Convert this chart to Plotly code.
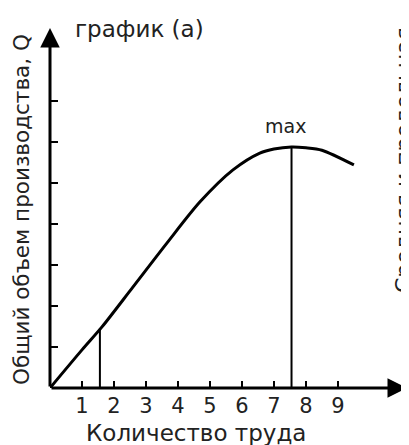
import plotly.graph_objects as go

# Data
labor = [0, 1.0, 1.625, 2.59, 3.66, 4.69, 5.72, 6.56, 7.0, 7.55, 8.0, 8.5, 9.5]
output = [0, 0.93, 1.49, 2.46, 3.54, 4.54, 5.32, 5.73, 5.83, 5.88, 5.86, 5.80, 5.44]
x_ticks = [1, 2, 3, 4, 5, 6, 7, 8, 9]
y_ticks = [1, 2, 3, 4, 5, 6, 7]
mark_low_x = 1.56
mark_low_y = 1.45
mark_max_x = 7.55
mark_max_y = 5.88

FONT = "DejaVu Sans, Liberation Sans, Arial, sans-serif"
TXT = "#222"
XMAX = 11.16
YMAX = 8.78

fig = go.Figure()
fig.add_trace(go.Scatter(x=labor, y=output, mode="lines",
                         line=dict(color="black", width=3, shape="spline", smoothing=0.8),
                         hoverinfo="skip", showlegend=False))
fig.add_trace(go.Scatter(x=[mark_low_x, mark_low_x], y=[0, mark_low_y], mode="lines",
                         line=dict(color="black", width=2), showlegend=False))
fig.add_trace(go.Scatter(x=[mark_max_x, mark_max_x], y=[0, mark_max_y], mode="lines",
                         line=dict(color="black", width=2), showlegend=False))

# axis arrows
fig.add_annotation(x=XMAX, y=0, ax=0, ay=0, xref="x", yref="y", axref="x", ayref="y",
                   text="", showarrow=True, arrowhead=2, arrowsize=1.3, arrowwidth=3,
                   arrowcolor="black", standoff=0)
fig.add_annotation(x=0, y=YMAX, ax=0, ay=0, xref="x", yref="y", axref="x", ayref="y",
                   text="", showarrow=True, arrowhead=2, arrowsize=1.3, arrowwidth=3,
                   arrowcolor="black", standoff=0)

fig.add_annotation(x=7.375, y=6.39, xref="x", yref="y", text="max", showarrow=False,
                   xanchor="center", yanchor="middle",
                   font=dict(family=FONT, size=19, color=TXT))
fig.add_annotation(x=(73 - 50) / 357, y=(388 - 29) / 360, xref="paper", yref="paper",
                   text="график (а)", xanchor="left", yanchor="middle", showarrow=False,
                   font=dict(family=FONT, size=23, color=TXT))
fig.add_annotation(x=(196 - 50) / 357, y=(388 - 433) / 360, xref="paper", yref="paper",
                   text="Количество труда", showarrow=False,
                   xanchor="center", yanchor="middle",
                   font=dict(family=FONT, size=23, color=TXT))
fig.add_annotation(x=(21 - 50) / 357, y=(388 - 210) / 360, xref="paper", yref="paper",
                   text="Общий объем производства, Q", textangle=-90,
                   xanchor="center", yanchor="middle",
                   showarrow=False, font=dict(family=FONT, size=21.5, color=TXT))
fig.add_annotation(x=(403 - 50) / 357, y=(388 - 160) / 360, xref="paper", yref="paper",
                   text="Средняя и предельная", textangle=-90, xanchor="center",
                   yanchor="middle",
                   showarrow=False, font=dict(family=FONT, size=22, color=TXT))

fig.update_layout(
    width=401, height=437,
    margin=dict(l=42, r=2, t=20, b=57),
    paper_bgcolor="white", plot_bgcolor="white",
    xaxis=dict(range=[0, XMAX], tickvals=x_ticks, ticks="inside", ticklen=7, tickwidth=2,
               tickcolor="black", showgrid=False, zeroline=False, showline=False,
               ticklabelstandoff=3,
               tickfont=dict(family=FONT, size=21, color=TXT)),
    yaxis=dict(range=[0, YMAX], tickvals=y_ticks, ticks="inside", ticklen=8, tickwidth=2,
               tickcolor="black", showgrid=False, zeroline=False, showline=False,
               showticklabels=False),
)
fig.write_html("out.html")
